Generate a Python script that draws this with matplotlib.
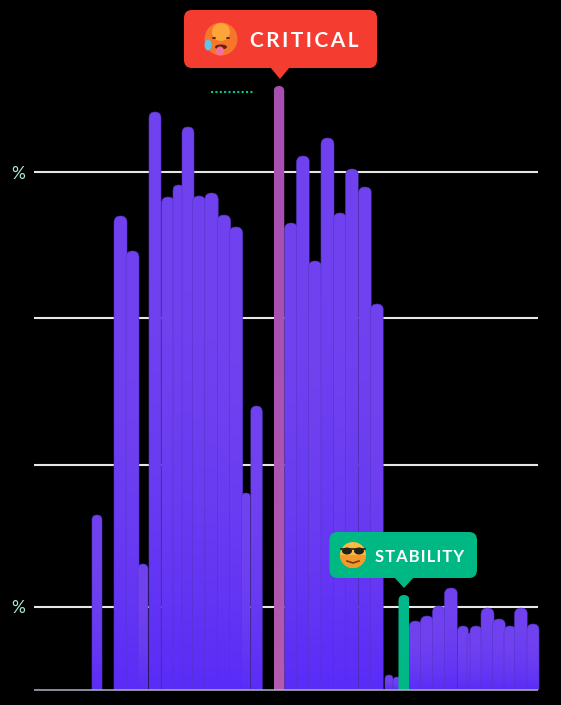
import numpy as np
import matplotlib
matplotlib.use('Agg')
import matplotlib.pyplot as plt
from matplotlib.patches import FancyBboxPatch, Polygon, Circle, Ellipse, Wedge

# bar centre, width and height (baseline = 0)
bar_x = [97, 120.5, 132.5, 143, 155, 168, 178.5, 188, 199, 211.5, 224, 236, 246, 256.5,
         279, 291, 303, 315, 327.5, 340, 352, 365, 377, 389, 397, 404,
         415.5, 427, 439, 451, 463, 470, 476, 487.5, 499, 510, 521, 533]
bar_w = [10, 13, 13, 10, 12, 13, 11, 12, 13.4, 13.4, 13.4, 13.4, 9, 11.5,
         10.5, 13, 13, 13, 13, 13, 13, 13, 13, 8, 8, 11,
         13, 13, 13, 13, 11, 6, 12, 13, 13, 12, 13, 12]
bar_h = [175, 474, 439, 126, 578, 493, 505, 563, 494, 497, 475, 463, 197, 284,
         604, 467, 534, 429, 552, 477, 521, 503, 386, 15, 13, 95,
         69, 74, 84, 102, 64, 57, 64, 82, 71, 64, 82, 66]
critical_idx = 14
stable_idx = 25

grid_levels = [518, 372, 225, 83]
pct_levels = [518, 84]


def gradient(c_top, c_bottom):
    t = np.linspace(0, 1, 64)[:, None] ** 2.5
    a = np.array(matplotlib.colors.to_rgb(c_top))
    b = np.array(matplotlib.colors.to_rgb(c_bottom))
    return (a * (1 - t) + b * t)[:, None, :]


def draw_bar(ax, x, w, h, c_top, c_bottom, z, edge='none'):
    r = w / 2
    box = FancyBboxPatch((x - w / 2 + r, -r), w - 2 * r, h, boxstyle=f'round,pad={r}',
                         fc='none', ec=edge, lw=0.4, zorder=z + 0.001, transform=ax.transData)
    ax.add_patch(box)
    im = ax.imshow(gradient(c_top, c_bottom), extent=(x - w / 2, x + w / 2, 0, h),
                   aspect='auto', zorder=z, interpolation='bilinear')
    im.set_clip_path(box)


def tooltip(ax, x0, y0, x1, y1, tip_x, tip_y, color):
    ax.add_patch(FancyBboxPatch((x0 + 8, y0 + 8), x1 - x0 - 16, y1 - y0 - 16,
                                boxstyle='round,pad=8', fc=color, ec='none', zorder=10))
    ax.add_patch(Polygon([(tip_x - 10, y0 + 1), (tip_x + 10, y0 + 1), (tip_x, tip_y)],
                         fc=color, ec='none', zorder=10))


def main():
    fig = plt.figure(figsize=(5.61, 7.05), dpi=100, facecolor='black')
    ax = fig.add_axes([0, 15 / 705, 1, 690 / 705])
    ax.set_facecolor('black')
    ax.axis('off')

    for lvl in grid_levels:
        ax.plot([34, 538], [lvl, lvl], color='#e6e6e6', lw=1.5, zorder=1, solid_capstyle='butt')
    ax.plot([34, 538], [0.3, 0.3], color='#b4b0c8', lw=1.1, zorder=6, solid_capstyle='butt',
            clip_on=False)

    for i, (x, w, h) in enumerate(zip(bar_x, bar_w, bar_h)):
        if i == critical_idx:
            draw_bar(ax, x, w, h, '#a850b2', '#b45aae', 5)
        elif i == stable_idx:
            draw_bar(ax, x, w, h, '#00b98a', '#00b884', 5)
        else:
            draw_bar(ax, x, w, h, '#7042ef', '#5a2cf8', 2 + i / 100, edge='#5534c4')

    ax.plot([211, 253], [598, 598], color='#00c896', lw=1.5, ls=(0, (1, 1.1)), zorder=3)

    for lvl in pct_levels:
        ax.text(18, lvl - 2, '%', color='#a6ead9', fontsize=12.5, family='Lato',
                ha='center', va='center')

    # critical label
    tooltip(ax, 184, 622, 377, 680, 280, 611, '#f43c31')
    ax.text(250.5, 651, '\u200a\u200a'.join('CRITICAL'), color='white', fontsize=15,
            family=['Lato', 'DejaVu Sans'], weight='bold', ha='left', va='center_baseline', zorder=12)
    ax.add_patch(Circle((221, 651), 16.5, fc='#f6762a', ec='none', zorder=11))
    ax.add_patch(Circle((221, 658), 9, fc='#fba53a', ec='none', zorder=11))
    ax.add_patch(Ellipse((214, 652), 4, 2, fc='#5a2a10', ec='none', zorder=12))
    ax.add_patch(Ellipse((228, 652), 4, 2, fc='#5a2a10', ec='none', zorder=12))
    ax.add_patch(Ellipse((221, 643), 12, 5, fc='#6b1f10', ec='none', zorder=12))
    ax.add_patch(Ellipse((220, 639), 8, 9, fc='#f36fa0', ec='none', zorder=13))
    ax.add_patch(Ellipse((208, 645), 7, 11, fc='#5cc4ef', ec='none', zorder=13))

    # stability label
    tooltip(ax, 329.5, 112, 477, 158, 404, 102, '#00b884')
    ax.text(375.5, 135, '\u200a'.join('STABILITY'), color='white', fontsize=12,
            family=['Lato', 'DejaVu Sans'], weight='bold', ha='left', va='center_baseline', zorder=12)
    ax.add_patch(Circle((353, 135), 13, fc='#f9bb42', ec='none', zorder=11))
    ax.add_patch(Wedge((353, 135), 13, 180, 360, fc='#f39a2c', ec='none', zorder=11))
    ax.add_patch(Ellipse((347, 139), 10, 7, fc='#26201c', ec='none', zorder=12))
    ax.add_patch(Ellipse((359, 139), 10, 7, fc='#26201c', ec='none', zorder=12))
    ax.plot([341, 365], [141, 141], color='#26201c', lw=1.2, zorder=12)
    ax.plot([347, 353, 359], [129, 127, 129], color='#7a3a10', lw=1.2, zorder=12)

    ax.set_xlim(0, 561)
    ax.set_ylim(0, 690)
    fig.savefig('out.png', dpi=100, facecolor='black')


if __name__ == '__main__':
    main()
